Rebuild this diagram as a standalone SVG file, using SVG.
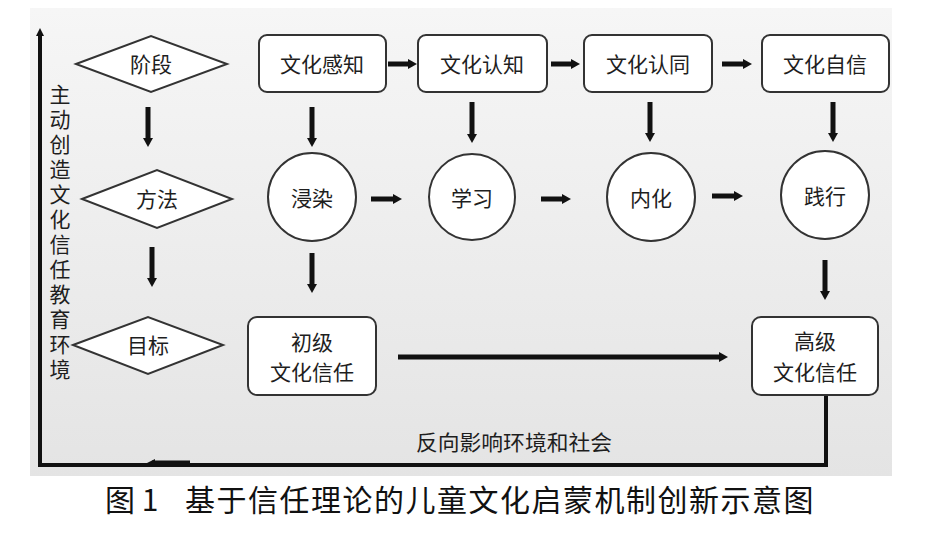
<svg xmlns="http://www.w3.org/2000/svg" width="934" height="544" viewBox="0 0 934 544">
<defs>
<linearGradient id="bg" x1="0" y1="0" x2="0" y2="1">
<stop offset="0" stop-color="#f6f6f6"/>
<stop offset="1" stop-color="#e4e4e4"/>
</linearGradient>
<marker id="ah" markerUnits="userSpaceOnUse" markerWidth="12" markerHeight="12" viewBox="0 0 12 12" refX="2" refY="6" orient="auto">
<path d="M0,1 L9,6 L0,11 Z" fill="#111"/>
</marker>
<marker id="ahs" markerUnits="userSpaceOnUse" markerWidth="12" markerHeight="12" viewBox="0 0 12 12" refX="2" refY="6" orient="auto">
<path d="M0,2 L8,6 L0,10 Z" fill="#111"/>
</marker>
<style>
.node{fill:#fff;stroke:#333;stroke-width:2}
.t{font-family:"Noto Sans CJK SC","Noto Sans",sans-serif;font-size:21px;fill:#1e1e1e;text-anchor:middle;dominant-baseline:central}
.arr{stroke:#111;stroke-width:5;fill:none;marker-end:url(#ah)}
.ln{stroke:#111;stroke-width:4;fill:none}
</style>
</defs>
<rect width="934" height="544" fill="#fff"/>
<rect x="30" y="8" width="862" height="468" fill="url(#bg)"/>

<g id="connectors">
<line class="arr" x1="148" y1="107" x2="148" y2="140"/>
<line class="arr" x1="152" y1="247" x2="152" y2="280"/>
<line class="arr" x1="388" y1="64" x2="410" y2="64"/>
<line class="arr" x1="551" y1="64" x2="573" y2="64"/>
<line class="arr" x1="722" y1="64" x2="745" y2="64"/>
<line class="arr" x1="312" y1="107" x2="312" y2="140"/>
<line class="arr" x1="472" y1="102" x2="472" y2="136"/>
<line class="arr" x1="650" y1="102" x2="650" y2="135"/>
<line class="arr" x1="833" y1="102" x2="833" y2="135"/>
<line class="arr" x1="371" y1="199" x2="395" y2="199"/>
<line class="arr" x1="541" y1="199" x2="564" y2="199"/>
<line class="arr" x1="712" y1="196" x2="736" y2="196"/>
<line class="arr" x1="312" y1="253" x2="312" y2="286"/>
<line class="arr" x1="825" y1="260" x2="825" y2="293"/>
<line class="arr" x1="398" y1="357" x2="721" y2="357"/>
<path class="ln" d="M826,395 V465 H40 V34" marker-end="url(#ahs)"/>
<line x1="152" y1="463" x2="190" y2="463" stroke="#111" stroke-width="5"/>
<path d="M147,463 L155,459 L155,467 Z" fill="#111"/>
</g>

<g id="n-jieduan">
<polygon class="node" points="76,64 151,36 227,64 151,92"/>
<text class="t" x="151" y="63">阶段</text>
</g>
<g id="n-fangfa">
<polygon class="node" points="82,199 157,170 232,199 157,228"/>
<text class="t" x="157" y="198">方法</text>
</g>
<g id="n-mubiao">
<polygon class="node" points="73,345 148,317 223,345 148,374"/>
<text class="t" x="148" y="344">目标</text>
</g>

<g id="n-ganzhi">
<rect class="node" x="259" y="35" width="127" height="57" rx="8"/>
<text class="t" x="322" y="63">文化感知</text>
</g>
<g id="n-renzhi">
<rect class="node" x="418" y="35" width="129" height="57" rx="8"/>
<text class="t" x="482" y="63">文化认知</text>
</g>
<g id="n-rentong">
<rect class="node" x="584" y="35" width="128" height="57" rx="8"/>
<text class="t" x="648" y="63">文化认同</text>
</g>
<g id="n-zixin">
<rect class="node" x="762" y="35" width="127" height="57" rx="8"/>
<text class="t" x="825" y="63">文化自信</text>
</g>

<g id="n-jinran">
<circle class="node" cx="312" cy="197" r="44"/>
<text class="t" x="312" y="197">浸染</text>
</g>
<g id="n-xuexi">
<circle class="node" cx="472" cy="197" r="43"/>
<text class="t" x="472" y="197">学习</text>
</g>
<g id="n-neihua">
<circle class="node" cx="651" cy="197" r="44"/>
<text class="t" x="651" y="197">内化</text>
</g>
<g id="n-jianxing">
<circle class="node" cx="825" cy="195" r="44"/>
<text class="t" x="825" y="195">践行</text>
</g>

<g id="n-chuji">
<rect class="node" x="248" y="317" width="128" height="78" rx="9"/>
<text class="t" x="312" y="341">初级</text>
<text class="t" x="312" y="371">文化信任</text>
</g>
<g id="n-gaoji">
<rect class="node" x="752" y="317" width="126" height="78" rx="9"/>
<text class="t" x="815" y="340">高级</text>
<text class="t" x="815" y="371">文化信任</text>
</g>

<g id="labels">
<text x="60" y="84" font-family="'Noto Sans CJK SC','Noto Sans',sans-serif" font-size="21" fill="#1e1e1e" writing-mode="vertical-rl" letter-spacing="4">主动创造文化信任教育环境</text>
<text class="t" x="514" y="441" textLength="196" lengthAdjust="spacingAndGlyphs">反向影响环境和社会</text>
</g>

<text x="105" y="498" font-family="'Noto Sans CJK SC','Noto Sans',sans-serif" font-size="30" fill="#111" dominant-baseline="central">图 1<tspan x="185" letter-spacing="1.5">基于信任理论的儿童文化启蒙机制创新示意图</tspan></text>
</svg>
